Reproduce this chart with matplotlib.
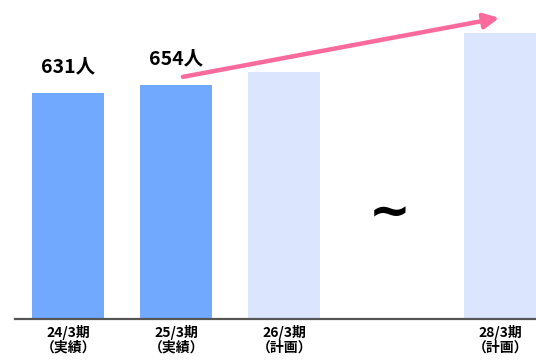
import matplotlib.pyplot as plt

plt.rcParams['font.family'] = ['Noto Sans CJK JP', 'DejaVu Sans']

# 人員数（実績・計画）
positions = [0, 1, 2, 4]
values = [631, 654, 690, 800]
periods = ['24/3期', '25/3期', '26/3期', '28/3期']
kinds = ['（実績）', '（実績）', '（計画）', '（計画）']
labeled = [True, True, False, False]

actual_color = '#70a9fd'
plan_color = '#dbe5fd'

fig = plt.figure(figsize=(5.36, 3.6), dpi=100)
ax = fig.add_axes([15 / 536, 41.5 / 360, 521 / 536, 318.5 / 360])

colors = [actual_color if k == '（実績）' else plan_color for k in kinds]
bars = ax.bar(positions, values, width=0.667, color=colors)

for b, v, show in zip(bars, values, labeled):
    if show:
        ax.annotate(f'{v}人', (b.get_x() + b.get_width() / 2, v),
                    xytext=(0, 12), textcoords='offset points',
                    ha='center', va='bottom', fontsize=14, fontweight='bold')

# 省略記号
ax.text(2.97, 295, '~', ha='center', va='center', fontsize=36,
        fontweight='bold', family='DejaVu Sans')

# 増加を示す矢印
ax.annotate('', xy=(3.99, 841), xytext=(1.06, 676),
            arrowprops=dict(arrowstyle='-|>,head_length=0.9,head_width=0.45',
                            color='#fc6a9c', lw=3.2, shrinkA=0, shrinkB=0))

ax.set_xlim(-0.495, 4.33)
ax.set_ylim(0, 891)
ax.set_xticks(positions)
ax.set_xticklabels([f'{p}\n{k}' for p, k in zip(periods, kinds)],
                   fontsize=10, fontweight='bold', linespacing=1.05)
ax.tick_params(axis='x', length=0, pad=5)
ax.set_yticks([])
for s in ['top', 'right', 'left']:
    ax.spines[s].set_visible(False)
ax.spines['bottom'].set_color('#555555')
ax.spines['bottom'].set_linewidth(1.6)

fig.savefig('out.png', dpi=100)
